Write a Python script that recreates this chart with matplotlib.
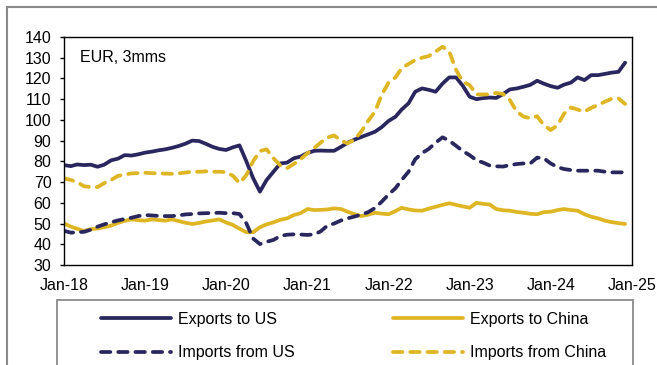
import numpy as np
import pandas as pd
import matplotlib
matplotlib.use("Agg")
import matplotlib.pyplot as plt
import matplotlib.dates as mdates
from matplotlib.lines import Line2D
from matplotlib.patches import Rectangle

# monthly values, Jan-18 .. Dec-24 (EUR bn, 3mms)
exports_us = [78.2, 77.7, 78.5, 78.2, 78.4, 77.4, 78.4, 80.5, 81.3, 83.0, 82.8, 83.4,
              84.2, 84.7, 85.3, 85.8, 86.5, 87.4, 88.5, 90.0, 89.8, 88.5, 87.0, 86.0,
              85.5, 86.8, 87.7, 80.0, 72.0, 65.4, 71.0, 75.0, 79.0, 79.4, 81.5, 82.3,
              84.0, 85.1, 85.2, 85.1, 85.1, 87.0, 89.0, 90.5, 91.8, 93.0, 94.3, 96.5,
              99.5, 101.5, 105.0, 108.0, 113.6, 115.2, 114.5, 113.6, 117.5, 120.5, 120.5, 116.5,
              111.2, 110.0, 110.5, 110.8, 110.6, 112.5, 114.7, 115.2, 116.0, 116.9, 118.9, 117.5,
              116.3, 115.5, 117.0, 118.0, 120.5, 119.2, 121.6, 121.6, 122.2, 122.8, 123.2, 127.6]
exports_china = [50.1, 48.5, 47.5, 46.4, 47.3, 47.6, 48.2, 49.0, 50.3, 51.3, 52.0, 51.6,
                 51.4, 52.0, 51.7, 51.4, 52.0, 51.2, 50.4, 49.8, 50.3, 51.0, 51.5, 52.0,
                 50.5, 49.3, 47.5, 45.8, 45.8, 48.2, 49.6, 50.6, 51.8, 52.5, 54.1, 55.0,
                 57.0, 56.5, 56.6, 56.8, 57.3, 57.0, 55.7, 54.5, 53.6, 54.3, 55.2, 54.8,
                 54.5, 56.0, 57.6, 56.8, 56.3, 56.2, 57.2, 58.1, 59.0, 59.8, 59.0, 58.3,
                 57.6, 60.0, 59.5, 59.2, 57.0, 56.4, 56.2, 55.6, 55.2, 54.7, 54.5, 55.5,
                 55.7, 56.5, 57.0, 56.5, 56.2, 54.5, 53.3, 52.5, 51.4, 50.7, 50.2, 49.8]
imports_us = [46.5, 45.6, 45.8, 46.0, 47.0, 48.5, 49.6, 50.6, 51.5, 52.2, 52.8, 53.6,
              54.1, 53.9, 53.7, 53.6, 53.6, 53.9, 54.4, 54.6, 54.9, 55.0, 55.1, 55.2,
              55.0, 55.0, 54.6, 50.1, 42.8, 40.1, 41.2, 42.1, 44.0, 44.6, 44.8, 44.7,
              44.5, 44.8, 46.2, 49.0, 50.0, 51.5, 52.5, 53.4, 54.3, 55.5, 57.5, 60.5,
              64.0, 67.0, 71.0, 75.0, 81.0, 84.0, 86.0, 89.0, 91.6, 90.0, 87.5, 85.0,
              83.0, 80.5, 79.5, 78.0, 77.6, 77.5, 78.2, 78.7, 79.0, 79.0, 81.8, 81.5,
              79.0, 77.2, 76.3, 75.8, 75.5, 75.5, 75.5, 75.5, 75.0, 74.7, 74.7, 74.7]
imports_china = [71.8, 71.0, 70.0, 68.0, 67.6, 67.6, 69.5, 71.0, 73.0, 73.6, 74.2, 74.3,
                 74.5, 74.3, 74.2, 74.1, 74.0, 74.2, 74.6, 75.0, 75.0, 75.2, 75.0, 75.0,
                 74.8, 73.0, 69.5, 73.4, 80.0, 85.0, 85.8, 81.5, 78.0, 76.7, 78.8, 81.0,
                 83.9, 86.5, 89.0, 91.5, 92.5, 90.0, 88.7, 90.5, 94.5, 99.5, 104.0, 112.0,
                 118.0, 120.5, 124.9, 127.0, 128.9, 130.0, 130.8, 133.0, 135.3, 133.0, 124.1, 118.5,
                 116.8, 112.3, 112.3, 112.3, 113.0, 112.5, 109.6, 104.0, 101.6, 100.8, 101.8, 97.5,
                 95.1, 97.5, 103.0, 106.0, 105.0, 104.0, 105.8, 107.2, 108.8, 110.2, 110.4, 107.7]

dates = pd.date_range("2018-01-01", periods=len(exports_us), freq="MS")
navy = "#2a275f"
gold = "#deb623"

plt.rcParams["font.family"] = ["Liberation Sans", "DejaVu Sans"]
plt.rcParams["font.size"] = 11.5

fig = plt.figure(figsize=(6.57, 3.65), dpi=100)
ax = fig.add_axes([64 / 657, 1 - 265 / 365, 568 / 657, 228 / 365])

dash = (0, (2.5, 2.1))
ax.plot(dates, exports_us, color=navy, lw=2.7, solid_capstyle="round", label="Exports to US")
ax.plot(dates, exports_china, color=gold, lw=2.7, solid_capstyle="round", label="Exports to China")
ax.plot(dates, imports_us, color=navy, lw=2.7, ls=dash, dash_capstyle="round", label="Imports from US")
ax.plot(dates, imports_china, color=gold, lw=2.7, ls=dash, dash_capstyle="round", label="Imports from China")

ax.set_ylim(30, 140)
ax.set_yticks(np.arange(30, 141, 10))
ax.set_xlim(pd.Timestamp("2018-01-01"), pd.Timestamp("2025-01-01"))
ax.xaxis.set_major_locator(mdates.YearLocator())
ax.xaxis.set_major_formatter(mdates.DateFormatter("Jan-%y"))
ax.tick_params(axis="y", direction="out", length=3, pad=6, width=1)
ax.tick_params(axis="x", length=0, pad=9)
for s in ax.spines.values():
    s.set_linewidth(1.0)
    s.set_color("black")

ax.text(0.028, 0.908, "EUR, 3mms", transform=ax.transAxes, va="center", ha="left")

# outer frame pieces (left and top edge)
fig.add_artist(Line2D([6.5 / 657, 6.5 / 657], [0, 1 - 7 / 365], transform=fig.transFigure,
                      color="#8a8a8a", lw=1.5))
fig.add_artist(Line2D([6.5 / 657, 1], [1 - 7 / 365, 1 - 7 / 365], transform=fig.transFigure,
                      color="#8a8a8a", lw=1.5))

# legend box
fig.add_artist(Rectangle((57 / 657, -0.05), 576 / 657, 0.05 + 1 - 300 / 365,
                         transform=fig.transFigure, fill=False, edgecolor="#8a8a8a", lw=1.3))
h, l = ax.get_legend_handles_labels()
order = [0, 2, 1, 3]
fig.legend([h[i] for i in order], [l[i] for i in order], ncol=2, frameon=False,
           loc="upper left", bbox_to_anchor=(101 / 657, 1 - 312 / 365),
           borderpad=0, borderaxespad=0, handlelength=4.4, handletextpad=0.45,
           columnspacing=6.1, labelspacing=1.15)

fig.savefig("out.png", dpi=100)
